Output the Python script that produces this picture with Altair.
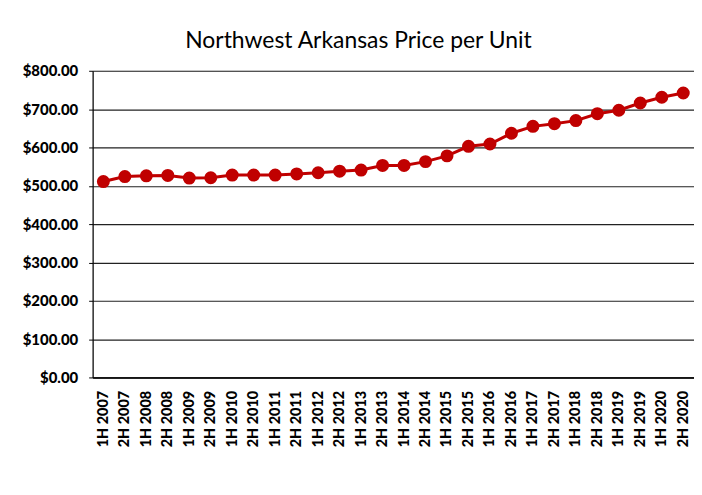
import altair as alt
import pandas as pd

periods = ["1H 2007", "2H 2007", "1H 2008", "2H 2008", "1H 2009", "2H 2009",
           "1H 2010", "2H 2010", "1H 2011", "2H 2011", "1H 2012", "2H 2012",
           "1H 2013", "2H 2013", "1H 2014", "2H 2014", "1H 2015", "2H 2015",
           "1H 2016", "2H 2016", "1H 2017", "2H 2017", "1H 2018", "2H 2018",
           "1H 2019", "2H 2019", "1H 2020", "2H 2020"]
prices = [511, 524, 526, 527, 520, 521, 528, 528, 528, 531, 534, 538,
          541, 553, 553, 563, 578, 603, 609, 637, 655, 662, 670, 688,
          697, 716, 731, 742]

df = pd.DataFrame({"period": periods, "price": prices})

chart = alt.Chart(df).mark_line(
    color="#C00000", strokeWidth=3,
    point=alt.OverlayMarkDef(color="#C00000", size=170, filled=True, opacity=1)
).encode(
    x=alt.X("period:N", sort=None, title=None,
            axis=alt.Axis(labelAngle=-90, labelFont="Lato", labelFontSize=14.5,
                          labelFontWeight=900, labelColor="#000000",
                          ticks=False, labelPadding=13, domainColor="#000000",
                          domainWidth=1.5, grid=False)),
    y=alt.Y("price:Q", title=None,
            scale=alt.Scale(domain=[0, 800], nice=False),
            axis=alt.Axis(values=[0, 100, 200, 300, 400, 500, 600, 700, 800],
                          format="$.2f", labelFont="Lato", labelFontSize=15,
                          labelFontWeight=900, labelColor="#000000",
                          tickSize=4, tickColor="#000000", labelPadding=11,
                          gridColor="#222222", gridWidth=1.2,
                          domainColor="#000000", domainWidth=1.2)),
).properties(
    width=604, height=308,
    title=alt.TitleParams("Northwest Arkansas Price per Unit", font="Lato",
                          fontSize=23, fontWeight="normal", color="#000000",
                          anchor="middle", dx=-35, offset=11),
    autosize=alt.AutoSizeParams(type="none"),
    padding={"left": 85, "top": 62, "right": 0, "bottom": 110},
).configure_view(stroke=None).configure(background="white")

chart.save("out.html", embed_options={"renderer": "svg", "actions": False})
